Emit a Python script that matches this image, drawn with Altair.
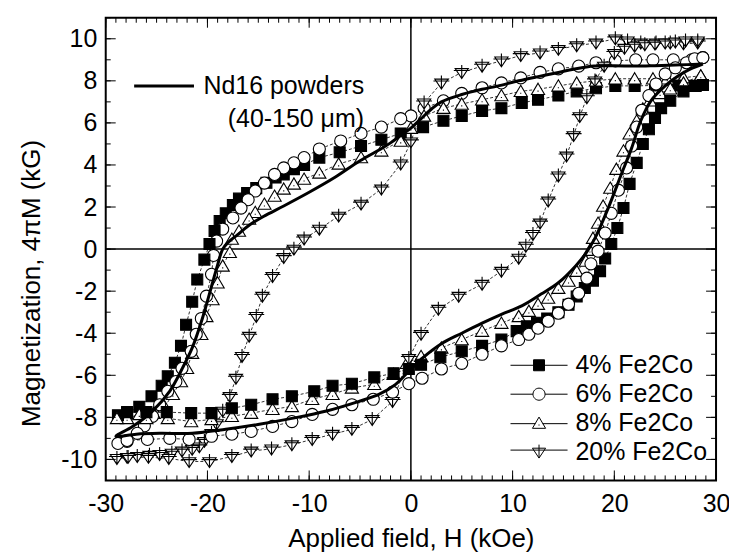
import altair as alt
import pandas as pd

FONT = "Liberation Sans, Arial, Helvetica, sans-serif"

SERIES = ["4% Fe2Co", "6% Fe2Co", "8% Fe2Co", "20% Fe2Co"]

# ---- 4% Fe2Co (filled squares) ----
s4_up_h = [28.7, 28.0, 26.0, 24.0, 22.0, 20.1, 18.2, 16.3, 14.5, 12.5, 10.9, 8.9, 7.0, 5.0, 3.2, 1.2, -1.0, -2.9, -4.9, -7.0,
           -9.0, -10.5, -11.5, -12.5, -13.3, -14.2, -15.2, -16.1, -16.9, -17.5, -18.2, -18.8, -19.3, -19.8, -20.3, -21.0, -21.5, -22.1, -22.6, -23.2,
           -23.9, -24.5, -25.5, -26.7, -27.9, -28.8]
s4_up_m = [7.8, 7.75, 7.78, 7.78, 7.76, 7.76, 7.65, 7.5, 7.3, 7.1, 6.95, 6.7, 6.57, 6.33, 6.1, 5.8, 5.5, 5.2, 4.9, 4.6,
           4.35, 4.0, 3.8, 3.55, 3.4, 3.15, 2.9, 2.67, 2.4, 2.1, 1.7, 1.33, 0.86, 0.24, -0.5, -1.45, -2.5, -3.6, -4.6, -5.4,
           -6.05, -6.5, -7.0, -7.5, -7.8, -7.9]
s4_lo_h = [-27.9, -26.0, -24.0, -21.6, -19.6, -17.6, -15.7, -13.6, -11.7, -9.5, -7.7, -5.8, -3.6, -1.7, -0.2, 1.0, 2.9, 5.0, 7.0, 8.9,
           10.4, 11.4, 12.4, 13.4, 14.5, 15.5, 16.3, 17.1, 17.9, 18.6, 19.1, 19.7, 20.3, 20.9, 21.5, 22.2, 22.8, 23.4, 24.0, 24.6,
           25.5, 26.8, 27.9, 28.7]
s4_lo_m = [-7.75, -7.75, -7.75, -7.8, -7.8, -7.57, -7.4, -7.14, -7.0, -6.76, -6.5, -6.4, -6.1, -5.9, -5.7, -5.5, -5.14, -4.86, -4.6, -4.3,
           -3.9, -3.67, -3.5, -3.3, -3.0, -2.65, -2.25, -1.85, -1.5, -1.05, -0.45, 0.24, 1.0, 1.95, 3.1, 4.1, 5.0, 5.7, 6.24, 6.7,
           7.05, 7.5, 7.76, 7.8]

# ---- 6% Fe2Co (open circles) ----
s6_up_h = [28.7, 27.6, 25.8, 23.8, 22.1, 20.1, 18.2, 16.5, 14.5, 12.7, 10.8, 8.9, 7.0, 5.0, 3.2, 1.3, 0.0, -1.0, -2.9, -4.9,
           -6.9, -9.0, -10.5, -11.5, -12.5, -13.4, -14.4, -15.3, -16.0, -16.7, -17.5, -18.5, -19.1, -19.4, -19.6, -20.1, -20.6, -21.1, -21.6, -22.5,
           -23.1, -23.9, -24.7, -25.4, -26.2, -26.9, -27.9, -28.8]
s6_up_m = [9.1, 9.0, 9.0, 9.0, 9.0, 8.95, 8.86, 8.7, 8.57, 8.4, 8.14, 7.9, 7.67, 7.4, 7.05, 6.7, 6.33, 6.2, 5.8, 5.5,
           5.14, 4.76, 4.35, 4.1, 3.86, 3.55, 3.14, 2.76, 2.35, 1.95, 1.48, 0.95, 0.38, -0.3, -1.2, -2.24, -3.3, -4.05, -4.86, -5.67,
           -6.3, -6.76, -7.4, -7.95, -8.4, -8.76, -9.14, -9.24]
s6_lo_h = [-27.9, -25.9, -23.7, -21.8, -19.6, -17.6, -15.7, -13.6, -11.7, -9.7, -7.7, -5.8, -3.7, -1.8, -0.2, 1.1, 3.0, 5.0, 7.0, 8.9,
           10.6, 11.6, 12.5, 13.5, 14.5, 15.5, 16.5, 17.3, 17.7, 18.4, 19.1, 19.7, 20.4, 21.2, 21.7, 22.2, 22.7, 23.4, 24.1, 25.0,
           26.0, 27.1, 27.9, 28.7]
s6_lo_m = [-9.1, -9.05, -9.0, -9.05, -8.9, -8.8, -8.67, -8.43, -8.2, -7.86, -7.62, -7.4, -7.14, -6.8, -6.4, -6.14, -5.7, -5.43, -5.0, -4.6,
           -4.3, -4.05, -3.76, -3.43, -3.05, -2.62, -2.1, -1.38, -0.7, -0.1, 0.76, 1.7, 2.8, 3.86, 4.9, 5.8, 6.6, 7.3, 7.85, 8.33,
           8.62, 8.86, 9.05, 9.1]

# ---- 8% Fe2Co (open up-triangles) ----
s8_up_h = [28.5, 26.8, 25.2, 23.8, 22.0, 20.1, 18.2, 16.3, 14.5, 12.5, 10.8, 8.9, 7.0, 5.0, 3.2, 1.3, 0.0, -1.0, -2.9, -4.9,
           -7.1, -9.0, -10.5, -11.5, -12.5, -13.4, -14.4, -15.3, -15.9, -16.9, -17.6, -17.8, -18.5, -19.0, -19.5, -20.1, -20.6, -21.5, -22.0, -22.6,
           -23.4, -24.2, -25.3, -26.7, -27.9, -28.9]
s8_up_m = [8.24, 8.15, 8.1, 8.1, 8.1, 8.1, 8.0, 7.9, 7.76, 7.6, 7.5, 7.3, 7.1, 6.9, 6.7, 6.33, 5.75, 5.14, 4.67, 4.35,
           4.05, 3.62, 3.33, 3.1, 2.86, 2.52, 2.14, 1.75, 1.43, 0.86, 0.48, -0.15, -0.8, -1.6, -2.4, -3.2, -4.05, -4.95, -5.67, -6.3,
           -6.9, -7.5, -7.8, -7.86, -8.05, -8.05]
s8_lo_h = [-26.0, -23.9, -21.6, -19.6, -17.6, -15.7, -13.6, -11.7, -9.7, -7.7, -5.8, -3.6, -1.7, -0.4, 1.0, 3.0, 5.0, 7.0, 8.9, 10.6,
           11.6, 12.5, 13.5, 14.5, 15.5, 16.3, 17.2, 17.6, 17.9, 18.4, 18.9, 19.6, 20.2, 20.9, 21.5, 22.2, 22.8, 23.5, 24.5, 25.5,
           26.8, 28.5]
s8_lo_m = [-8.05, -8.05, -8.2, -8.1, -7.95, -7.8, -7.62, -7.48, -7.14, -6.9, -6.6, -6.43, -5.95, -5.43, -5.1, -4.7, -4.3, -3.9, -3.52, -3.2,
           -2.95, -2.62, -2.33, -1.86, -1.52, -1.05, -0.57, -0.05, 0.52, 1.24, 2.05, 2.9, 3.8, 4.67, 5.48, 6.1, 6.67, 7.05, 7.4, 7.62,
           7.9, 8.24]

# ---- 20% Fe2Co (crossed down-triangles) ----
s20_up_h = [28.2, 26.8, 25.5, 24.1, 22.6, 21.3, 20.1, 18.2, 16.3, 14.5, 12.7, 10.8, 8.9, 7.0, 5.0, 3.0, 1.3, 0.0, -1.0, -2.9,
            -4.9, -7.1, -9.0, -10.5, -11.5, -12.5, -13.6, -14.6, -15.2, -15.9, -16.6, -17.2, -17.8, -18.5, -19.1, -19.6, -20.3, -20.8, -21.5, -22.5,
            -23.5, -24.7, -25.7, -26.9, -27.9, -28.9]
s20_up_m = [9.8, 9.76, 9.8, 9.8, 9.8, 9.9, 10.0, 9.8, 9.67, 9.5, 9.33, 9.2, 8.95, 8.7, 8.4, 7.9, 6.95, 5.1, 4.05, 2.86,
            2.14, 1.57, 0.95, 0.48, 0.0, -0.4, -1.3, -2.24, -3.2, -4.14, -5.1, -6.14, -7.0, -7.7, -8.3, -8.76, -9.14, -9.4, -9.52, -9.6,
            -9.7, -9.76, -9.8, -9.86, -9.9, -9.95]
s20_lo_h = [-27.8, -25.8, -23.8, -21.8, -19.8, -17.6, -15.7, -13.7, -11.7, -9.7, -7.7, -5.8, -3.8, -1.8, -0.2, 1.0, 2.7, 4.7, 7.0, 8.9,
            10.6, 11.3, 12.0, 12.7, 13.5, 14.5, 15.3, 16.0, 16.6, 17.3, 18.1, 19.0, 20.0, 21.0, 22.0, 23.0, 24.0, 25.0, 26.0, 27.0,
            28.2]
s20_lo_m = [-9.9, -9.9, -9.95, -10.1, -10.1, -9.86, -9.6, -9.5, -9.3, -9.05, -8.8, -8.57, -8.1, -7.24, -5.2, -4.05, -2.86, -2.24, -1.67, -1.05,
            -0.43, 0.14, 0.7, 1.24, 2.29, 3.48, 4.43, 5.4, 6.3, 7.2, 8.0, 8.7, 9.3, 9.55, 9.65, 9.72, 9.75, 9.8, 9.85, 9.9,
            9.9]

# ---- Nd16 powders (solid line) ----
nd_up_h = [28.7, 26.0, 24.0, 22.0, 20.0, 18.0, 16.0, 14.5, 12.5, 10.6, 8.5, 7.0, 5.0, 3.0, 2.0, 1.0, 0.0, -1.0, -2.0, -3.0,
           -5.0, -7.5, -10.0, -12.5, -14.5, -16.0, -17.0, -18.0, -18.5, -19.0, -19.5, -20.5, -21.5, -22.5, -23.7, -25.4, -27.4, -29.0]
nd_up_m = [8.8, 8.75, 8.72, 8.7, 8.72, 8.7, 8.55, 8.4, 8.2, 8.0, 7.75, 7.6, 7.35, 7.0, 6.65, 6.2, 5.75, 5.4, 5.05, 4.75,
           4.2, 3.4, 2.7, 2.05, 1.55, 1.1, 0.7, 0.3, 0.0, -0.75, -1.6, -3.3, -4.7, -5.7, -6.75, -7.7, -8.45, -8.9]
nd_lo_h = [-27.0, -24.7, -21.5, -18.2, -14.9, -11.7, -8.3, -5.1, -3.1, -1.5, -0.2, 1.1, 3.0, 5.0, 7.0, 8.9, 10.9, 12.8, 14.5,
           16.2, 17.2, 18.1, 19.4, 20.7, 21.7, 22.6, 23.6, 25.0, 26.3, 27.5, 28.7]
nd_lo_m = [-8.8, -8.76, -8.76, -8.57, -8.33, -8.05, -7.7, -7.24, -6.9, -6.43, -5.8, -5.2, -4.5, -4.0, -3.52, -3.1, -2.7, -2.14, -1.6,
           -0.8, -0.2, 0.52, 1.95, 3.57, 4.8, 6.1, 7.05, 7.76, 8.24, 8.57, 8.8]

ND_LABEL = ["Nd16 powders"]
ND_NOTE = "(40-150 \u03bcm)\u00a0\u00a0\u00a0"

X_MAJOR = list(range(-30, 31, 10))
X_MINOR = list(range(-30, 31, 1))
Y_MAJOR = list(range(-10, 11, 2))
Y_MINOR = list(range(-11, 12, 1))
ZERO = [0]

# ---------------- tables ----------------
rows = []
for name, hu, mu, hl, ml in [
    (SERIES[0], s4_up_h, s4_up_m, s4_lo_h, s4_lo_m),
    (SERIES[1], s6_up_h, s6_up_m, s6_lo_h, s6_lo_m),
    (SERIES[2], s8_up_h, s8_up_m, s8_lo_h, s8_lo_m),
    (SERIES[3], s20_up_h, s20_up_m, s20_lo_h, s20_lo_m),
]:
    hs = hu + hl
    ms = mu + ml
    assert len(hs) == len(ms), name
    for i, (h, m) in enumerate(zip(hs, ms)):
        rows.append({"series": name, "H": h, "M": m, "idx": i})
df = pd.DataFrame(rows)

nd_h = nd_up_h + nd_lo_h
nd_m = nd_up_m + nd_lo_m
assert len(nd_h) == len(nd_m)
nd = pd.DataFrame({"H": nd_h, "M": nd_m, "idx": list(range(len(nd_h))), "label": ND_LABEL * len(nd_h)})

W, HGT = 612, 464

xs = alt.Scale(domain=[-30, 30], nice=False, zero=False)
ys = alt.Scale(domain=[-11, 11], nice=False, zero=False)

x_axis = alt.Axis(values=X_MAJOR, ticks=False, tickSize=0, domain=False, grid=False,
                  labelFontSize=25, labelFont=FONT, labelColor="black", labelPadding=11,
                  labelFlush=False, labelOverlap=False, labelExpr="'' + datum.value",
                  title="Applied field, H (kOe)", titleFontSize=26, titleFont=FONT,
                  titleFontWeight="normal", titleColor="black", titleY=66, titleBaseline="alphabetic")
y_axis = alt.Axis(values=Y_MAJOR, ticks=False, tickSize=0, domain=False, grid=False,
                  labelFontSize=25, labelFont=FONT, labelColor="black", labelPadding=9,
                  labelFlush=False, labelOverlap=False, labelExpr="'' + datum.value",
                  title="Magnetization, 4\u03c0M (kG)", titleFontSize=26, titleFont=FONT,
                  titleFontWeight="normal", titleColor="black", titleX=-66, titleY=266,
                  titleAngle=270, titleBaseline="alphabetic", titleAlign="center")


def X(field):
    return alt.X(field, type="quantitative", scale=xs, axis=x_axis)


def Y(field):
    return alt.Y(field, type="quantitative", scale=ys, axis=y_axis)


PLOT_PATHS = [
    "M-1,-1H1V1H-1Z",
    "M-1.1,0A1.1,1.1 0 1,1 1.1,0A1.1,1.1 0 1,1 -1.1,0Z",
    "M0,-1.1L1.2,0.95L-1.2,0.95ZM-0.1,0.35H0.1",
    "M-1.2,-0.7H1.2L0,1.1ZM-1.45,-0.35H1.45M0,-1.35V1.1",
]
LEGEND_PATHS = [
    "M-5.2,0H-1M1,0H5.2M-1,-1H1V1H-1Z",
    "M-5.2,0H-1.1M1.1,0H5.2M-1.1,0A1.1,1.1 0 1,1 1.1,0A1.1,1.1 0 1,1 -1.1,0Z",
    "M-5.2,0.1H-0.65M0.65,0.1H5.2M0,-1.1L1.2,0.95L-1.2,0.95ZM-0.1,0.35H0.1",
    "M-5.2,-0.35H5.2M-1.2,-0.7H1.2L0,1.1ZM0,-1.35V1.1",
]
FILLS = ["black", "white", "white", "white"]
STROKES = ["black", "black", "black", "black"]

zero_x = alt.Chart(pd.DataFrame({"v": ZERO})).mark_rule(color="black", strokeWidth=1.5).encode(x=X("v"))
zero_y = alt.Chart(pd.DataFrame({"v": ZERO})).mark_rule(color="black", strokeWidth=1.5).encode(y=Y("v"))

dashes = alt.Chart(df).mark_line(color="black", strokeWidth=0.8, strokeDash=[3, 2]).encode(
    x=X("H"), y=Y("M"), detail="series:N", order="idx:Q")

points = alt.Chart(df).mark_point(filled=True, stroke="black", strokeWidth=1.1, size=121, opacity=1).encode(
    x=X("H"), y=Y("M"),
    shape=alt.Shape("series:N", scale=alt.Scale(domain=SERIES, range=PLOT_PATHS), legend=None),
    fill=alt.Fill("series:N", scale=alt.Scale(domain=SERIES, range=FILLS), legend=None),
    order="idx:Q")

nd_line = alt.Chart(nd).mark_line(strokeWidth=3, interpolate="catmull-rom").encode(
    x=X("H"), y=Y("M"), order="idx:Q",
    stroke=alt.Stroke("label:N", scale=alt.Scale(domain=ND_LABEL, range=["black"]),
                      legend=alt.Legend(title=ND_NOTE, titleOrient="bottom", titleAnchor="end",
                                        orient="none", legendX=27, legendY=37, padding=0,
                                        symbolType="stroke", symbolSize=3600, symbolStrokeWidth=3,
                                        symbolStrokeColor="black",
                                        labelFontSize=25, labelFont=FONT, labelColor="black", labelOffset=8,
                                        titleFontSize=25, titleFont=FONT, titleFontWeight="normal",
                                        titleColor="black", titlePadding=8, labelLimit=400, titleLimit=400)))

leg = alt.Legend(title=None, orient="none", legendX=422, legendY=336, padding=0,
                 symbolSize=121, symbolStrokeWidth=1, symbolStrokeColor="black", symbolOpacity=1,
                 labelFontSize=25, labelFont=FONT, labelColor="black", labelOffset=24,
                 rowPadding=3, labelLimit=400)
legend_proxy = alt.Chart(pd.DataFrame({"series": SERIES})).mark_point(
    filled=True, size=121, opacity=0).encode(
    shape=alt.Shape("series:N", scale=alt.Scale(domain=SERIES, range=LEGEND_PATHS), legend=leg),
    fill=alt.Fill("series:N", scale=alt.Scale(domain=SERIES, range=FILLS), legend=leg),
    stroke=alt.Stroke("series:N", scale=alt.Scale(domain=SERIES, range=STROKES), legend=leg))


def xticks(vals, length, top):
    y0 = 0 if top else HGT
    y1 = length if top else HGT - length
    return alt.Chart(pd.DataFrame({"v": vals})).mark_rule(color="black", strokeWidth=1).encode(
        x=X("v"), y=alt.value(y0), y2=alt.value(y1))


def yticks(vals, length, right):
    x0 = W if right else 0
    x1 = W - length if right else length
    return alt.Chart(pd.DataFrame({"v": vals})).mark_rule(color="black", strokeWidth=1).encode(
        y=Y("v"), x=alt.value(x0), x2=alt.value(x1))


ticks = [
    xticks(X_MINOR, 5, False), xticks(X_MAJOR, 10, False),
    xticks(X_MINOR, 5, True), xticks(X_MAJOR, 10, True),
    yticks(Y_MINOR, 5, False), yticks(Y_MAJOR, 10, False),
    yticks(Y_MINOR, 5, True), yticks(Y_MAJOR, 10, True),
]

chart = alt.layer(zero_x, zero_y, dashes, points, nd_line, *ticks, legend_proxy).resolve_scale(
    shape="independent", fill="independent", stroke="independent"
).properties(
    width=W, height=HGT,
    autosize=alt.AutoSizeParams(type="none"),
    padding={"left": 98, "top": 9, "right": 13, "bottom": 75},
).configure(font=FONT).configure_view(stroke="black", strokeWidth=2)

chart.save("out.html", embed_options={"renderer": "svg", "actions": False})
